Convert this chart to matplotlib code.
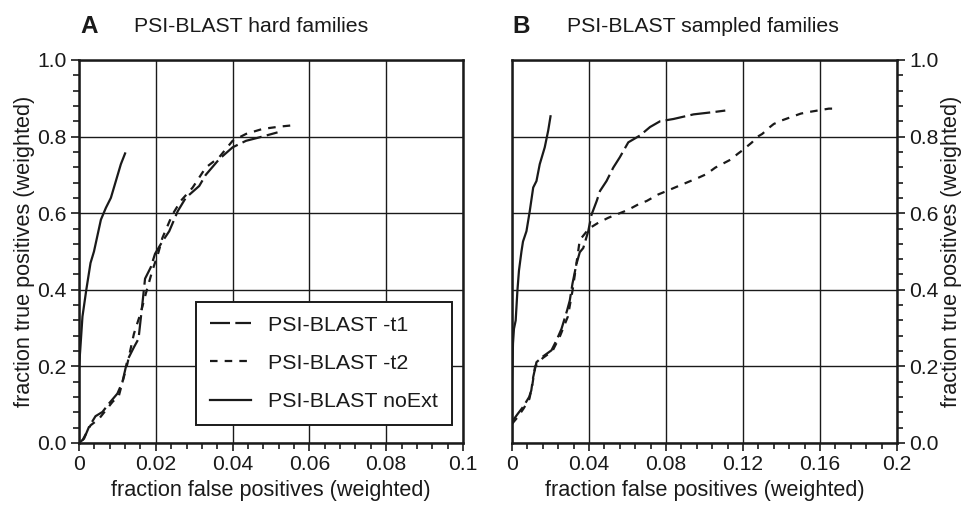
import numpy as np
import matplotlib.pyplot as plt
from matplotlib.ticker import AutoMinorLocator

plt.rcParams['font.family'] = ['Liberation Sans', 'DejaVu Sans']

#------ Datos --------------------------------
# Panel A: PSI-BLAST hard families
a_noext_x = [0, 0.0003, 0.0009, 0.0019, 0.003, 0.0039, 0.0057, 0.007, 0.0083, 0.0096, 0.0109, 0.012]
a_noext_y = [0.198, 0.24, 0.33, 0.40, 0.47, 0.50, 0.583, 0.614, 0.64, 0.684, 0.728, 0.756]

a_t1_x = [0, 0.0013, 0.0026, 0.0043, 0.0061, 0.0078, 0.010, 0.0113, 0.0126, 0.0143, 0.0155, 0.0165,
          0.0172, 0.0187, 0.0198, 0.0217, 0.0235, 0.0257, 0.0278, 0.0313, 0.033, 0.0365, 0.040,
          0.0435, 0.047, 0.0517]
a_t1_y = [0.0, 0.011, 0.042, 0.07, 0.081, 0.103, 0.129, 0.159, 0.216, 0.25, 0.272, 0.363,
          0.429, 0.459, 0.494, 0.526, 0.553, 0.605, 0.64, 0.671, 0.70, 0.741, 0.772,
          0.789, 0.798, 0.811]

a_t2_x = [0.0009, 0.003, 0.0052, 0.0087, 0.0104, 0.0126, 0.0143, 0.0161, 0.0174, 0.0191, 0.0207,
          0.0217, 0.0243, 0.0265, 0.0296, 0.033, 0.0365, 0.040, 0.0435, 0.0478, 0.0522, 0.0552]
a_t2_y = [0.007, 0.046, 0.063, 0.107, 0.124, 0.207, 0.285, 0.341, 0.39, 0.45, 0.498,
          0.535, 0.596, 0.632, 0.667, 0.719, 0.746, 0.789, 0.807, 0.82, 0.826, 0.829]

# Panel B: PSI-BLAST sampled families
b_noext_x = [0, 0, 0.0005, 0.001, 0.0019, 0.0028, 0.0036, 0.0049, 0.0057, 0.0075, 0.0092, 0.011,
             0.0127, 0.0144, 0.017, 0.0188, 0.020]
b_noext_y = [0.0, 0.155, 0.26, 0.298, 0.32, 0.398, 0.45, 0.50, 0.526, 0.553, 0.605, 0.667,
             0.684, 0.728, 0.772, 0.816, 0.853]

b_t1_x = [0, 0.0005, 0.0031, 0.0057, 0.0089, 0.010, 0.011, 0.0127, 0.0161, 0.0205, 0.0231, 0.0257,
          0.0286, 0.030, 0.0314, 0.0335, 0.0352, 0.037, 0.0396, 0.0413, 0.044, 0.0457, 0.0491,
          0.0526, 0.056, 0.0604, 0.0665, 0.0717, 0.0769, 0.0839, 0.0943, 0.1047, 0.1108]
b_t1_y = [0.05, 0.059, 0.077, 0.094, 0.12, 0.137, 0.172, 0.211, 0.226, 0.242, 0.268, 0.298,
          0.346, 0.372, 0.416, 0.468, 0.498, 0.509, 0.553, 0.596, 0.632, 0.658, 0.684,
          0.719, 0.746, 0.785, 0.803, 0.825, 0.84, 0.846, 0.858, 0.864, 0.868]

b_t2_x = [0, 0.003, 0.006, 0.009, 0.0105, 0.012, 0.016, 0.021, 0.025, 0.029, 0.0315, 0.0335,
          0.0352, 0.040, 0.0448, 0.050, 0.056, 0.060, 0.0656, 0.070, 0.076, 0.0804, 0.0865,
          0.0908, 0.097, 0.101, 0.1056, 0.114, 0.117, 0.1194, 0.1247, 0.127, 0.130, 0.134,
          0.136, 0.140, 0.145, 0.150, 0.154, 0.1646, 0.167]
b_t2_y = [0.05, 0.068, 0.09, 0.115, 0.15, 0.2, 0.222, 0.24, 0.28, 0.33, 0.40, 0.47,
          0.53, 0.56, 0.575, 0.588, 0.60, 0.608, 0.623, 0.632, 0.649, 0.658, 0.671,
          0.68, 0.693, 0.702, 0.719, 0.741, 0.754, 0.763, 0.785, 0.798, 0.807, 0.825,
          0.833, 0.842, 0.851, 0.86, 0.864, 0.873, 0.873]

a_xticks = [0, 0.02, 0.04, 0.06, 0.08, 0.1]
a_xlabels = ['0', '0.02', '0.04', '0.06', '0.08', '0.1']
b_xticks = [0, 0.04, 0.08, 0.12, 0.16, 0.2]
b_xlabels = ['0', '0.04', '0.08', '0.12', '0.16', '0.2']
yticks = [0.0, 0.2, 0.4, 0.6, 0.8, 1.0]
ylabels = ['0.0', '0.2', '0.4', '0.6', '0.8', '1.0']

#------ Graficar ----------
ink = '#1a1a1a'
fs = 15.2
fig = plt.figure(figsize=(9.67, 5.05), dpi=100)
axA = fig.add_axes([0.0817, 0.1228, 0.3971, 0.7584])
axB = fig.add_axes([0.5295, 0.1228, 0.3981, 0.7584])

t1_style = dict(color=ink, lw=1.6, dashes=(9, 2.4))
t2_style = dict(color=ink, lw=1.6, dashes=(3.4, 3.2))
ne_style = dict(color=ink, lw=1.6, linestyle='-')

axA.plot(a_t1_x, a_t1_y, label='PSI-BLAST -t1', **t1_style)
axA.plot(a_t2_x, a_t2_y, label='PSI-BLAST -t2', **t2_style)
axA.plot(a_noext_x, a_noext_y, label='PSI-BLAST noExt', **ne_style)

axB.plot(b_t1_x, b_t1_y, **t1_style)
axB.plot(b_t2_x, b_t2_y, **t2_style)
axB.plot(b_noext_x, b_noext_y, **ne_style)

for ax, xt, xl, xmax in [(axA, a_xticks, a_xlabels, 0.1), (axB, b_xticks, b_xlabels, 0.2)]:
    ax.set_xlim(0, xmax)
    ax.set_ylim(0, 1.0)
    ax.set_xticks(xt)
    ax.set_xticklabels(xl)
    ax.set_yticks(yticks)
    ax.set_yticklabels(ylabels)
    ax.xaxis.set_minor_locator(AutoMinorLocator(5))
    ax.yaxis.set_minor_locator(AutoMinorLocator(5))
    ax.grid(True, which='major', color=ink, lw=1.0)
    ax.tick_params(which='major', direction='out', length=6, width=1.2, color=ink,
                   labelsize=fs, labelcolor=ink, pad=3)
    ax.tick_params(which='minor', direction='out', length=4, width=1.2, color=ink)
    for s in ax.spines.values():
        s.set_linewidth(1.8)
        s.set_color(ink)
    ax.set_xlabel('fraction false positives (weighted)', fontsize=15.6, color=ink, labelpad=4)
    ax.set_ylabel('fraction true positives (weighted)', fontsize=15.6, color=ink, labelpad=1.5)

axB.yaxis.tick_right()
axB.yaxis.set_label_position('right')
axB.yaxis.label.set_rotation(90)
axB.tick_params(axis='y', which='both', left=False, right=True)

leg = axA.legend(loc='lower right', bbox_to_anchor=(0.971, 0.047), fontsize=15.4, frameon=True,
                 fancybox=False, handlelength=1.9, labelspacing=0.9, borderpad=0.65,
                 handletextpad=0.8, borderaxespad=0)
leg.get_frame().set_edgecolor(ink)
leg.get_frame().set_linewidth(1.4)
leg.get_frame().set_alpha(1)
for t in leg.get_texts():
    t.set_color(ink)

fig.text(0.0827, 0.948, 'A', fontsize=17.5, fontweight='bold', color=ink, va='center')
fig.text(0.139, 0.948, 'PSI-BLAST hard families', fontsize=15.3, color=ink, va='center')
fig.text(0.5295, 0.948, 'B', fontsize=17.5, fontweight='bold', color=ink, va='center')
fig.text(0.586, 0.948, 'PSI-BLAST sampled families', fontsize=15.3, color=ink, va='center')

plt.savefig('out.png', dpi=100)
